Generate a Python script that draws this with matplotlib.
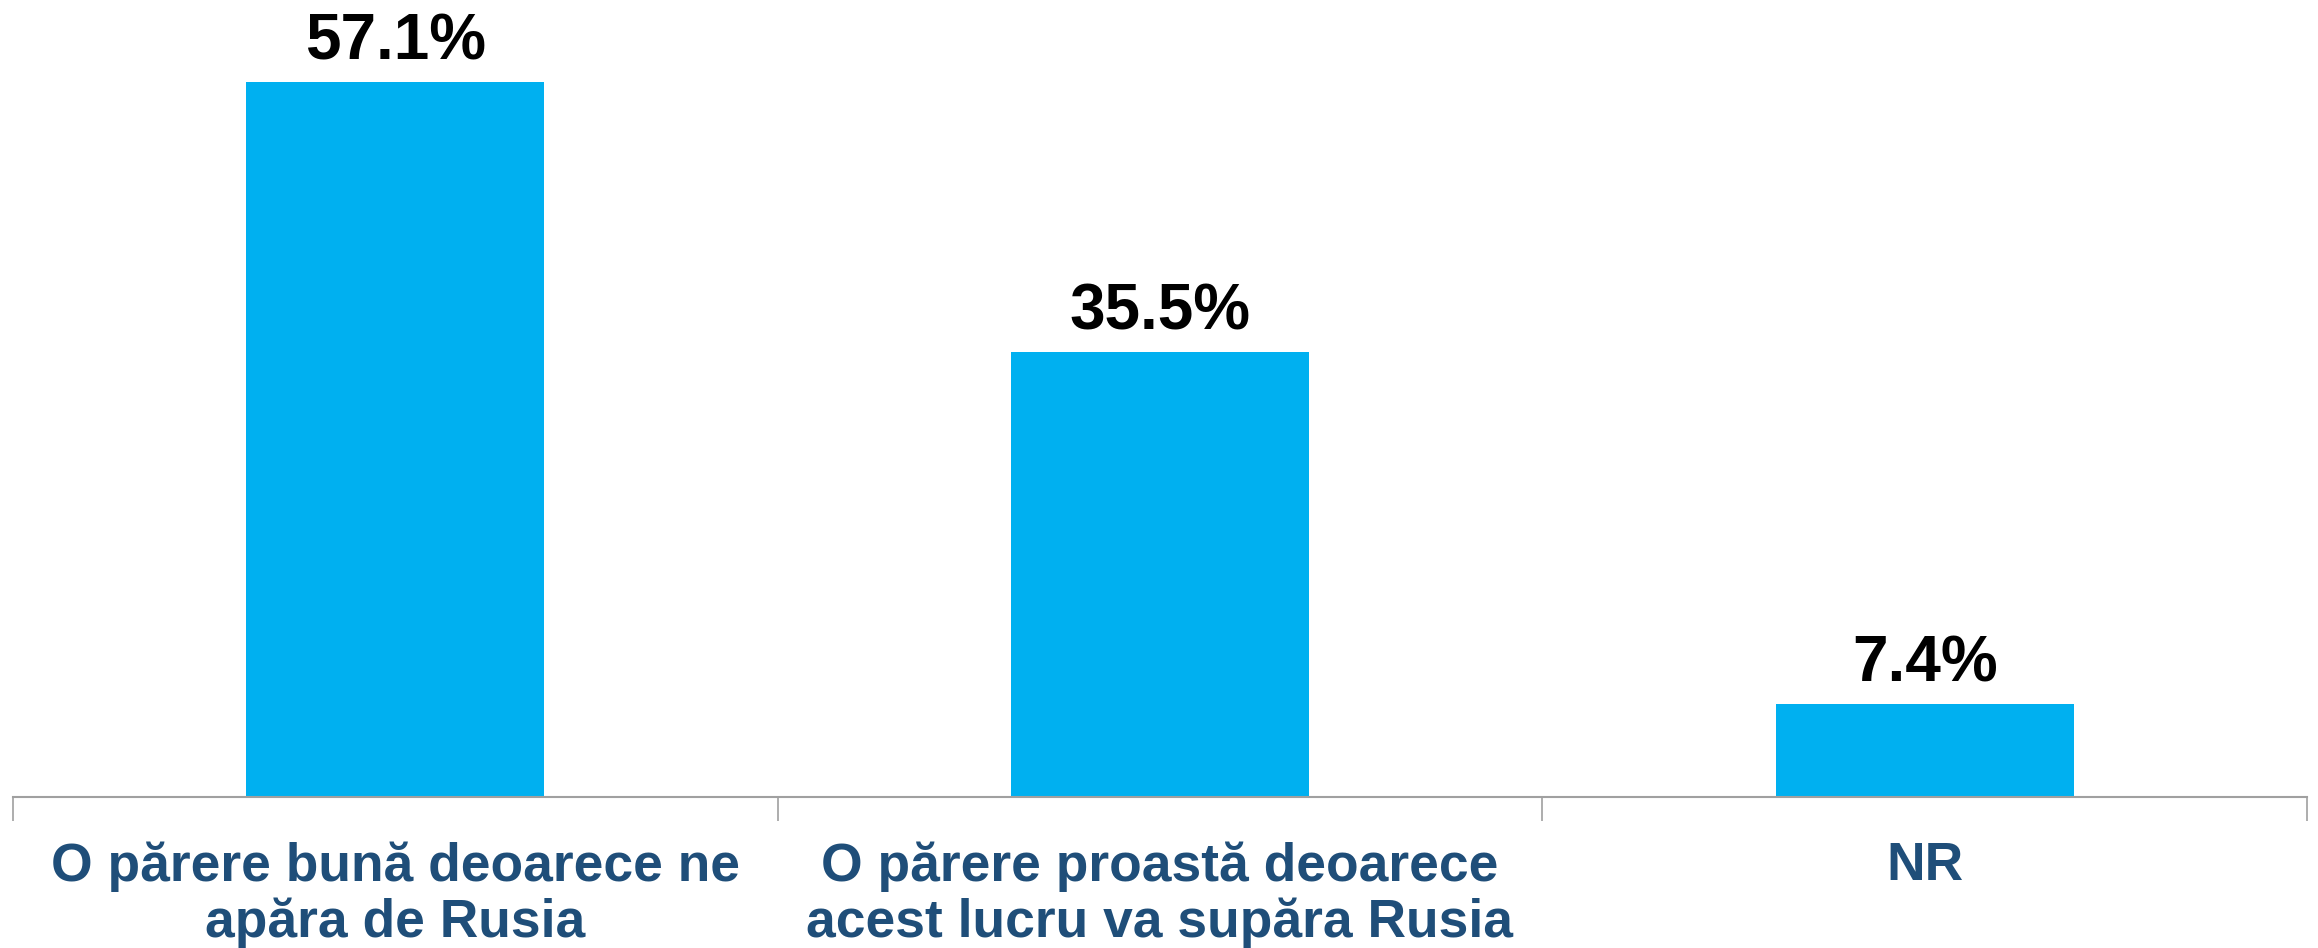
import matplotlib.pyplot as plt

categories = ['O părere bună deoarece ne\napăra de Rusia',
              'O părere proastă deoarece\nacest lucru va supăra Rusia',
              'NR']
values = [57.1, 35.5, 7.4]
value_labels = ['57.1%', '35.5%', '7.4%']


def main():
    plt.rcParams['font.family'] = ['Liberation Sans', 'DejaVu Sans']
    fig = plt.figure(figsize=(23.18, 9.48), dpi=100)
    ax = fig.add_axes([13 / 2318, 1 - 797 / 948, 2294 / 2318, 797 / 948])

    x = list(range(len(values)))
    ax.bar(x, values, width=0.39, color='#00B0F0', zorder=2)

    for xi, v, lab in zip(x, values, value_labels):
        ax.annotate(lab, (xi, v), xytext=(0, 16.5), textcoords='offset points',
                    ha='center', va='baseline', fontsize=46, fontweight='bold',
                    color='black')

    ax.set_xlim(-0.5, len(values) - 0.5)
    ax.set_ylim(0, 63.65)

    for s in ['top', 'right', 'left']:
        ax.spines[s].set_visible(False)
    ax.spines['bottom'].set_color('#A0A0A0')
    ax.spines['bottom'].set_linewidth(1.5)
    ax.set_yticks([])

    # boundary ticks between categories, labels on minor ticks
    ax.set_xticks([i - 0.5 for i in range(len(values) + 1)])
    ax.set_xticklabels([])
    ax.tick_params(axis='x', which='major', length=17, width=1.2, color='#A0A0A0')
    ax.set_xticks(x, minor=True)
    ax.set_xticklabels(categories, minor=True, fontsize=38.4, fontweight='bold',
                       color='#1F4E79', linespacing=1.13)
    ax.tick_params(axis='x', which='minor', length=0, pad=32)

    fig.savefig('out.png', dpi=100)


if __name__ == '__main__':
    main()
